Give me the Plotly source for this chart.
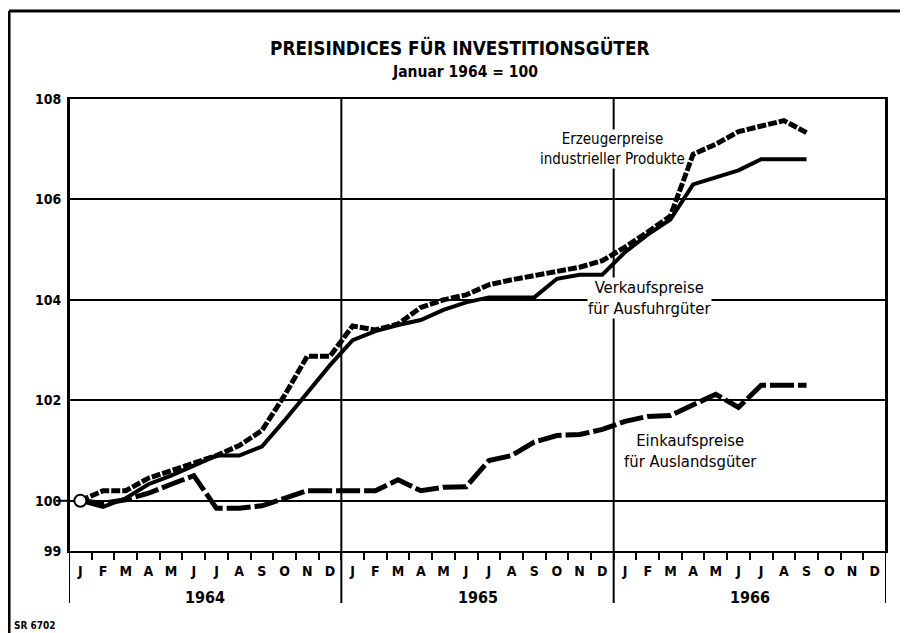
import plotly.graph_objects as go

months = ["J", "F", "M", "A", "M", "J", "J", "A", "S", "O", "N", "D"] * 3
years = ["1964", "1965", "1966"]

erzeuger = [100.0, 100.2, 100.2, 100.45, 100.6, 100.75, 100.9, 101.1, 101.4, 102.1, 102.88, 102.88,
            103.48, 103.4, 103.52, 103.85, 104.0, 104.1, 104.3, 104.4, 104.48, 104.55, 104.65, 104.78,
            105.05, 105.35, 105.67, 106.9, 107.1, 107.35, 107.45, 107.57, 107.33]
verkauf = [100.0, 99.88, 100.05, 100.33, 100.5, 100.7, 100.9, 100.9, 101.08, 101.6, 102.15, 102.7,
           103.2, 103.38, 103.5, 103.6, 103.8, 103.95, 104.05, 104.05, 104.05, 104.42, 104.5, 104.5,
           104.95, 105.3, 105.6, 106.3, 106.45, 106.58, 106.8, 106.8, 106.8]
einkauf = [100.0, 99.95, 100.02, 100.15, 100.33, 100.5, 99.85, 99.85, 99.9, 100.05, 100.2, 100.2,
           100.2, 100.2, 100.42, 100.2, 100.27, 100.28, 100.8, 100.9, 101.17, 101.3, 101.32, 101.42,
           101.58, 101.68, 101.7, 101.92, 102.12, 101.86, 102.3, 102.3, 102.3]
y_ticks = [99, 100, 102, 104, 106, 108]

FONT = "Liberation Sans Narrow, DejaVu Sans Condensed, Arial Narrow, sans-serif"
x_idx = list(range(len(erzeuger)))

fig = go.Figure()
fig.add_trace(go.Scatter(x=x_idx, y=einkauf, mode="lines",
                         line=dict(color="black", width=5, dash="24px,4px"), name="Einkaufspreise"))
fig.add_trace(go.Scatter(x=x_idx, y=verkauf, mode="lines",
                         line=dict(color="black", width=4), name="Verkaufspreise"))
fig.add_trace(go.Scatter(x=x_idx, y=erzeuger, mode="lines",
                         line=dict(color="black", width=5, dash="9px,2px"), name="Erzeugerpreise"))
fig.add_trace(go.Scatter(x=[0], y=[einkauf[0]], mode="markers",
                         marker=dict(size=12, color="white", line=dict(color="black", width=2))))

shapes = []
# year dividers extending below plot
for xv in [-0.5, 11.5, 23.5, 35.5]:
    shapes.append(dict(type="line", xref="x", yref="paper", x0=xv, x1=xv, y0=-0.115, y1=1,
                       line=dict(color="black", width=2)))
# tick at 100
shapes.append(dict(type="line", xref="paper", yref="y", x0=-0.016, x1=0, y0=100, y1=100,
                   line=dict(color="black", width=2)))
# outer frame
shapes.append(dict(type="line", xref="paper", yref="paper", x0=-0.0734, x1=1.03, y0=1.1947, y1=1.1947,
                   line=dict(color="black", width=3)))
shapes.append(dict(type="line", xref="paper", yref="paper", x0=-0.0734, x1=-0.0734, y0=1.1947, y1=-0.19,
                   line=dict(color="black", width=3)))

annotations = []
for i, yr in enumerate(years):
    annotations.append(dict(x=5.5 + 12 * i, y=-0.102, xref="x", yref="paper", text="<b>%s</b>" % yr,
                            yanchor="middle", showarrow=False,
                            font=dict(size=16, family=FONT, color="black")))
annotations += [
    dict(x=0.478, y=1.115, xref="paper", yref="paper", text="<b>PREISINDICES FÜR INVESTITIONSGÜTER</b>",
         xanchor="center", yanchor="middle", showarrow=False, font=dict(size=18.8, family=FONT, color="black")),
    dict(x=0.485, y=1.06, xref="paper", yref="paper", text="<b>Januar 1964 = 100</b>",
         xanchor="center", yanchor="middle", showarrow=False, font=dict(size=15.5, family=FONT, color="black")),
    dict(x=-0.0698, y=-0.164, xref="paper", yref="paper", text="<b>SR 6702</b>", xanchor="left",
         yanchor="middle", showarrow=False, font=dict(size=10, family=FONT, color="black")),
    dict(x=23.43, y=107.0, xref="x", yref="y", text="Erzeugerpreise<br>industrieller Produkte",
         showarrow=False, bgcolor="white", borderpad=0, font=dict(size=15, family=FONT, color="black")),
    dict(x=25.1, y=104.04, xref="x", yref="y", text="Verkaufspreise<br>für Ausfuhrgüter",
         showarrow=False, bgcolor="white", borderpad=0, font=dict(size=16.5, family=FONT, color="black")),
    dict(x=26.87, y=100.99, xref="x", yref="y", text="Einkaufspreise<br>für Auslandsgüter",
         showarrow=False, bgcolor="white", borderpad=0, font=dict(size=16.5, family=FONT, color="black")),
]

fig.update_layout(
    width=900, height=625,
    margin=dict(l=61, r=22, t=91, b=82),
    paper_bgcolor="white", plot_bgcolor="white",
    showlegend=False,
    shapes=shapes, annotations=annotations,
    font=dict(family=FONT, color="black"),
    xaxis=dict(range=[-0.5, 35.5], tickvals=list(range(36)), ticktext=["<b>%s</b>" % m for m in months],
               ticks="outside", ticklen=6, tickcolor="rgba(0,0,0,0)", automargin=False,
               tickfont=dict(size=14, family=FONT, color="black"),
               showgrid=False, zeroline=False, showline=True, linecolor="black", linewidth=2, mirror=True,
               minor=dict(tickvals=[k - 0.5 for k in range(1, 36)], ticks="outside", ticklen=7,
                          tickwidth=2, tickcolor="black", showgrid=False)),
    yaxis=dict(range=[99, 108], tickvals=y_ticks, ticktext=["<b>%d</b>" % v for v in y_ticks],
               ticks="", ticklabelstandoff=3, automargin=False,
               tickfont=dict(size=14, family=FONT, color="black"),
               showgrid=True, gridcolor="black", gridwidth=2, zeroline=False,
               showline=True, linecolor="black", linewidth=2, mirror=True),
)

fig.write_html("out.html")
